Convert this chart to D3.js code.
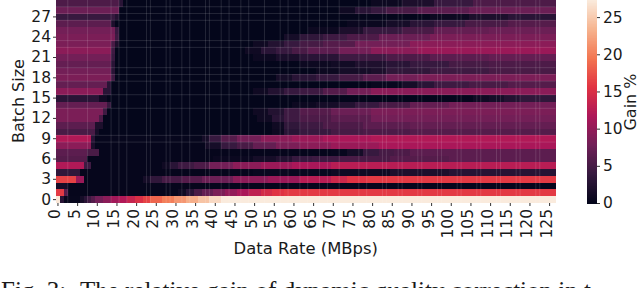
<!DOCTYPE html>
<html>
<head>
<meta charset="utf-8">
<script src="https://cdn.jsdelivr.net/npm/d3@7"></script>
<style>
  html, body { margin: 0; padding: 0; background: #fff; overflow: hidden; }
  svg { display: block; }
  text { font-family: "DejaVu Sans", sans-serif; fill: #1a1a1a; }
</style>
</head>
<body>
<svg id="chart" width="640" height="288"></svg>
<script>
const COLUMN_COUNT = 127;
const GAIN_MAX = 27.3;

const xTickValues = d3.range(0, 126, 5);
const yTickValues = d3.range(0, 28, 3);
const colorbarTicks = [0, 5, 10, 15, 20, 25];

// seaborn rocket, sampled
const rocketStops = ['#03051a', '#35193e', '#701f57', '#ad1759', '#e13342', '#f37651', '#f6b48f', '#faebdd'];

// one list per batch size, bottom row first: [end column, gain %]
const gainRows = [
  [[1,27],[2,3],[6,0.3],[7,1.5],[8,3],[9,4.5],[10,6],[12,8],[14,9.5],[16,11],[18,12],[20,13.5],[22,15],[24,16.5],[27,18.5],[30,20],[33,21.5],[36,23],[39,24.5],[42,26],[127,27.3]],
  [[2,16],[3,6],[31,0.2],[33,1],[35,3],[37,5.2],[40,7],[43,8.5],[46,10],[49,11.5],[52,13],[55,14.5],[58,15.5],[127,16]],
  [[3,1.5],[127,0.2]],
  [[5,16.5],[7,10.5],[22,0.2],[24,1.5],[27,3.5],[32,5],[37,6],[45,7.5],[54,9.5],[62,10.5],[70,12.5],[74,14],[79,15.5],[127,16]],
  [[6,3.5],[50,0.2],[70,0.5],[85,1],[100,2],[127,2.8]],
  [[7,12],[9,4.5],[27,0.2],[29,1],[31,3],[35,4.5],[39,5.5],[45,8],[52,9.5],[60,10.5],[70,11.5],[127,12.5]],
  [[8,6],[40,0.2],[50,0.6],[56,1.5],[60,2.5],[65,4],[72,4.5],[85,5.2],[100,6],[127,6.5]],
  [[8,6.5],[11,5.2],[70,0.2],[74,0.4],[78,1.5],[82,4],[86,5],[90,5.5],[127,6.5]],
  [[9,9.5],[10,2],[38,0.2],[42,1.5],[46,4],[50,5.2],[56,7],[62,8.5],[70,9.5],[82,10.5],[127,11.5]],
  [[9,12],[10,3],[37,0.3],[39,1.5],[42,4],[46,6],[52,8],[60,9.5],[68,10.5],[80,11.5],[127,12]],
  [[10,5.2],[11,1.5],[55,0.1],[58,0.8],[62,3],[70,4],[78,5],[90,5.5],[127,6]],
  [[10,6.5],[12,2],[55,0.1],[58,1],[62,3.5],[68,4.5],[78,5.5],[90,6.5],[127,7]],
  [[11,8.5],[12,5.2],[51,0.1],[55,1],[58,3],[62,4.5],[70,5.5],[80,6.5],[127,8]],
  [[12,8.5],[13,4.5],[50,0.1],[54,1],[58,2.5],[62,4.5],[70,6],[80,7.5],[127,8.5]],
  [[13,7],[14,4],[60,0.1],[66,0.8],[72,1.5],[76,2.5],[82,4],[90,5.2],[100,7],[127,8]],
  [[11,3],[13,1],[95,0.1],[106,0.2],[110,1],[114,1.5],[118,2.5],[127,3.5]],
  [[12,9.5],[14,3],[50,0.1],[54,1],[58,2.5],[62,4],[68,4.5],[74,6],[80,8],[127,9.5]],
  [[13,7],[14,3],[80,0.1],[88,0.5],[92,1.5],[96,3],[105,4.5],[115,5.2],[127,6]],
  [[14,8.5],[15,4.5],[56,0.1],[60,1.5],[66,3],[72,4],[78,5],[84,6.5],[92,8],[127,8.5]],
  [[14,8],[15,3],[66,0.1],[72,0.8],[80,1.5],[84,2],[95,3.5],[110,4.5],[127,5.2]],
  [[14,7],[15,3],[62,0.1],[70,0.8],[76,1.2],[84,2.2],[90,3],[100,4],[110,5],[127,5.5]],
  [[14,8],[15,4],[50,0.1],[56,0.8],[62,1.8],[72,3],[84,4.5],[95,5.5],[110,6.5],[127,7]],
  [[14,9.5],[15,4.5],[48,0.1],[52,1],[56,3],[60,4],[64,5.2],[72,6.5],[80,8],[92,9.5],[127,10.5]],
  [[14,8.5],[15,5.2],[16,2],[50,0.1],[54,1],[58,2.5],[62,4],[68,5],[76,6],[90,8],[127,9.5]],
  [[15,8.5],[16,4.5],[58,0.1],[62,1.5],[68,3.5],[74,4.5],[82,5.5],[95,7.5],[127,8.5]],
  [[15,8],[16,4],[64,0.1],[72,0.8],[78,2],[88,4],[96,5.2],[110,7],[127,7.5]],
  [[14,6.5],[15,2],[74,0.1],[84,0.6],[90,1.5],[96,3],[104,4],[115,5.2],[127,6]],
  [[15,4],[16,2.5],[95,0.1],[105,0.8],[115,2],[127,3]],
  [[16,7.5],[72,0.1],[76,1],[80,3],[84,4],[92,5.2],[105,6.5],[127,7.5]],
  [[16,5.5],[17,3],[80,0.1],[88,0.8],[96,2],[106,4],[127,5.5]],
];

// pale seams left by the mesh renderer
const seamColumns = [3, 8, 14, 16, 18, 23, 24, 28, 29, 32, 34, 38, 39, 42, 44, 47, 49, 53, 57, 59, 62, 64, 67, 69, 72, 77, 79, 83, 84, 87, 88, 92, 93, 97, 98, 102, 103, 107, 108, 112, 113, 117, 118, 122, 123];
const seamRows = [28, 27, 26, 23, 22, 19, 18, 17, 15, 13, 9, 8];

const PLOT_LEFT = 56;
const PLOT_RIGHT = 555.5;
const PLOT_TOP = 0;
const PLOT_BOTTOM = 203;
const BAR_LEFT = 587;
const BAR_WIDTH = 10;
const TICK_FONT = 15.5;
const TITLE_FONT = 16.4;

const svg = d3.select('#chart');

const x = d3.scaleBand().domain(d3.range(COLUMN_COUNT)).range([PLOT_LEFT, PLOT_RIGHT]).paddingInner(0).paddingOuter(0);
const y = d3.scaleBand().domain(d3.range(gainRows.length)).range([PLOT_BOTTOM, PLOT_TOP]).paddingInner(0).paddingOuter(0);
const color = d3.scaleLinear()
  .domain(rocketStops.map((_, i) => (i / (rocketStops.length - 1)) * GAIN_MAX))
  .range(rocketStops)
  .clamp(true);
const barY = d3.scaleLinear().domain([0, GAIN_MAX]).range([PLOT_BOTTOM, PLOT_TOP]);

// heatmap cells
const cells = svg.append('g').attr('shape-rendering', 'crispEdges');
gainRows.forEach((row, rowIndex) => {
  let start = 0;
  row.forEach(([end, gain]) => {
    cells.append('rect')
      .attr('x', x(start))
      .attr('y', y(rowIndex))
      .attr('width', x.step() * (end - start))
      .attr('height', y.step())
      .attr('fill', color(gain));
    start = end;
  });
});

const seams = svg.append('g').attr('stroke', '#fff').attr('stroke-opacity', 0.13).attr('stroke-width', 1);
seamColumns.forEach((col) => {
  seams.append('line').attr('x1', x(col)).attr('x2', x(col)).attr('y1', PLOT_TOP).attr('y2', PLOT_BOTTOM);
});
seamRows.forEach((row) => {
  seams.append('line').attr('x1', PLOT_LEFT).attr('x2', PLOT_RIGHT).attr('y1', y(row)).attr('y2', y(row));
});

// axes
const xAxis = svg.append('g')
  .attr('transform', `translate(0,${PLOT_BOTTOM})`)
  .call(d3.axisBottom(x).tickValues(xTickValues).tickSize(3));
xAxis.select('.domain').remove();
xAxis.selectAll('text')
  .attr('font-size', TICK_FONT)
  .attr('text-anchor', 'end')
  .attr('dy', 0)
  .attr('y', 0)
  .attr('x', 0)
  .attr('transform', 'translate(2,6) rotate(-90)');

const yAxis = svg.append('g')
  .attr('transform', `translate(${PLOT_LEFT},0)`)
  .call(d3.axisLeft(y).tickValues(yTickValues).tickSize(3));
yAxis.select('.domain').remove();
yAxis.selectAll('text').attr('font-size', TICK_FONT).attr('x', -5);

svg.selectAll('.tick line').attr('stroke', '#333').attr('stroke-width', 1);
svg.selectAll('.tick text').style('font-family', '"DejaVu Sans", sans-serif').attr('fill', '#1a1a1a');

svg.append('text')
  .attr('x', (PLOT_LEFT + PLOT_RIGHT) / 2)
  .attr('y', 254)
  .attr('text-anchor', 'middle')
  .attr('font-size', TITLE_FONT)
  .text('Data Rate (MBps)');

svg.append('text')
  .attr('transform', 'translate(24,101) rotate(-90)')
  .attr('text-anchor', 'middle')
  .attr('font-size', 16)
  .text('Batch Size');

// colorbar
const bar = svg.append('g').attr('shape-rendering', 'crispEdges');
d3.range(0, GAIN_MAX, 0.1).forEach((v) => {
  bar.append('rect')
    .attr('x', BAR_LEFT)
    .attr('y', barY(v + 0.1))
    .attr('width', BAR_WIDTH)
    .attr('height', barY(v) - barY(v + 0.1) + 0.5)
    .attr('fill', color(v));
});

const barAxis = svg.append('g')
  .attr('transform', `translate(${BAR_LEFT + BAR_WIDTH},0)`)
  .call(d3.axisRight(barY).tickValues(colorbarTicks).tickSize(3));
barAxis.select('.domain').remove();
barAxis.selectAll('text')
  .attr('font-size', TICK_FONT)
  .attr('x', 6)
  .style('font-family', '"DejaVu Sans", sans-serif')
  .attr('fill', '#1a1a1a');
barAxis.selectAll('line').attr('stroke', '#333');

svg.append('text')
  .attr('transform', 'translate(636,102) rotate(-90)')
  .attr('text-anchor', 'middle')
  .attr('font-size', 16)
  .text('Gain %');

// caption, cut off by the bottom edge
const caption = svg.append('text')
  .attr('y', 299)
  .attr('font-size', 25)
  .style('font-family', '"Liberation Serif", serif');
caption.append('tspan').attr('x', 1).text('Fig. 3:');
caption.append('tspan').attr('x', 80).text('The relative gain of dynamic quality correction in t');
</script>
</body>
</html>
